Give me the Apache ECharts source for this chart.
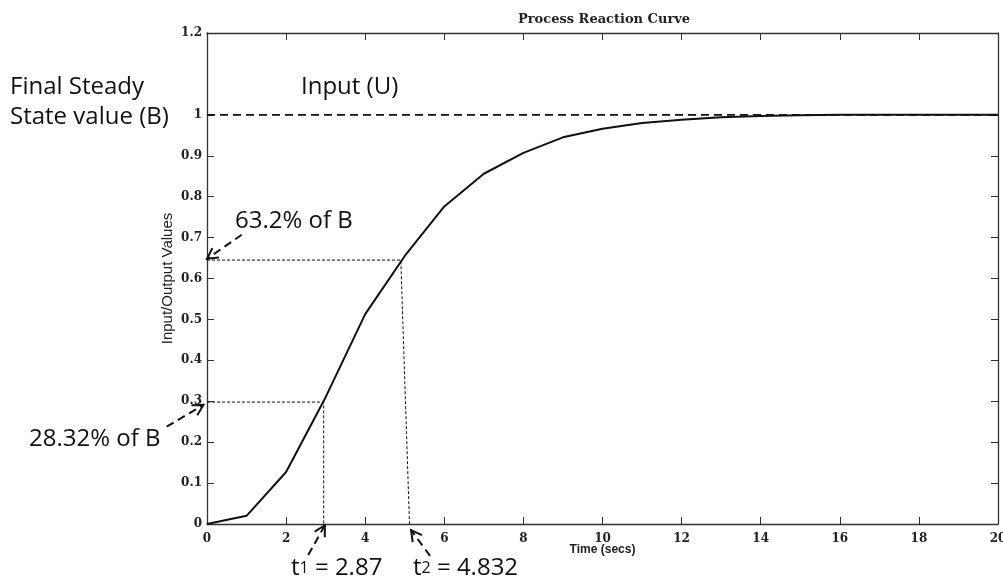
<!DOCTYPE html>
<html>
<head>
<meta charset="utf-8">
<script src="https://cdn.jsdelivr.net/npm/echarts@6/dist/echarts.min.js"></script>
<style>
  html, body { margin: 0; padding: 0; background: #ffffff; }
  #chart { width: 1003px; height: 582px; }
</style>
</head>
<body>
<div id="chart"></div>
<script>
// ---- data ----
const timeSecs = [0, 1, 2, 3, 4, 5, 6, 7, 8, 9, 10, 11, 12, 13, 14, 15, 16, 17, 18, 19, 20];
const outputVals = [0, 0.02, 0.127, 0.31, 0.513, 0.655, 0.776, 0.856, 0.907, 0.945, 0.966, 0.980, 0.988, 0.994, 0.997, 0.999, 1.0, 1.0, 1.0, 1.0, 1.0];
const inputX = [0, 20];
const inputY = [1, 1];
const guideT1 = [[0, 0.298], [2.95, 0.298], [2.95, 0]];
const guideT2 = [[0, 0.645], [4.9, 0.645], [5.12, 0]];
const xTicks = [0, 2, 4, 6, 8, 10, 12, 14, 16, 18, 20];
const yTicks = [0, 0.1, 0.2, 0.3, 0.4, 0.5, 0.6, 0.7, 0.8, 0.9, 1.0, 1.2];
const arrow63 = [[0.88, 0.707], [0.0, 0.648]];
const arrow28 = [[-1.02, 0.238], [-0.09, 0.291]];
const arrowT1 = [[2.56, -0.076], [2.98, -0.003]];
const arrowT2 = [[5.64, -0.078], [5.16, -0.015]];

const chart = echarts.init(document.getElementById('chart'), null, { renderer: 'canvas' });

const axisLine = { show: true, onZero: false, lineStyle: { color: '#333', width: 1.3 } };
const serifLabel = { fontFamily: 'DejaVu Serif', fontWeight: 'bold', fontSize: 12, color: '#222' };

const option = {
  animation: false,
  backgroundColor: '#ffffff',
  title: {
    text: 'Process Reaction Curve',
    left: 599,
    top: 8,
    textAlign: 'center',
    textStyle: { fontFamily: 'DejaVu Serif', fontWeight: 'bold', fontSize: 13, color: '#222' }
  },
  grid: { left: 207, right: 5, top: 33, bottom: 58, containLabel: false, outerBoundsMode: 'none' },
  xAxis: [
    {
      type: 'value', min: 0, max: 20, interval: 2, position: 'bottom',
      name: 'Time (secs)', nameLocation: 'middle', nameGap: 20, nameMoveOverlap: false,
      nameTextStyle: { fontFamily: 'Liberation Sans', fontSize: 12, fontWeight: 'bold', color: '#222' },
      axisLine: axisLine,
      axisTick: { show: true, inside: true, length: 7, lineStyle: { color: '#333' }, customValues: xTicks },
      axisLabel: Object.assign({ margin: 9, customValues: xTicks, hideOverlap: false }, serifLabel),
      splitLine: { show: false }
    },
    {
      type: 'value', min: 0, max: 20, interval: 2, position: 'top',
      axisLine: axisLine,
      axisTick: { show: true, inside: true, length: 7, lineStyle: { color: '#333' }, customValues: xTicks },
      axisLabel: { show: false },
      splitLine: { show: false }
    }
  ],
  yAxis: [
    {
      type: 'value', min: 0, max: 1.2, interval: 0.1, position: 'left',
      name: 'Input/Output Values', nameLocation: 'middle', nameGap: 32, nameRotate: 90, nameMoveOverlap: false,
      nameTextStyle: { fontFamily: 'Liberation Sans', fontSize: 15, color: '#222' },
      axisLine: axisLine,
      axisTick: { show: true, inside: true, length: 7, lineStyle: { color: '#333' }, customValues: yTicks },
      axisLabel: Object.assign({ margin: 5, customValues: yTicks,
        formatter: v => String(Math.round(v * 10) / 10) }, serifLabel),
      splitLine: { show: false }
    },
    {
      type: 'value', min: 0, max: 1.2, interval: 0.1, position: 'right',
      axisLine: axisLine,
      axisTick: { show: true, inside: true, length: 7, lineStyle: { color: '#333' }, customValues: yTicks },
      axisLabel: { show: false },
      splitLine: { show: false }
    }
  ],
  series: [
    {
      name: 'Input', type: 'line', showSymbol: false, symbol: 'none',
      data: inputX.map((x, i) => [x, inputY[i]]),
      lineStyle: { color: '#111', width: 1.6, type: [8, 5] }, z: 3
    },
    {
      name: 'Output', type: 'line', showSymbol: false, symbol: 'none',
      data: timeSecs.map((t, i) => [t, outputVals[i]]),
      lineStyle: { color: '#111', width: 2 }, z: 4
    },
    {
      name: 'guide1', type: 'line', showSymbol: false, symbol: 'none',
      data: guideT1, lineStyle: { color: '#111', width: 1, type: [3, 2] }, z: 2
    },
    {
      name: 'guide2', type: 'line', showSymbol: false, symbol: 'none',
      data: guideT2, lineStyle: { color: '#111', width: 1, type: [3, 2] }, z: 2
    }
  ]
};
chart.setOption(option);

function arrowGraphics(pair) {
  const tail = chart.convertToPixel({ gridIndex: 0 }, pair[0]);
  const head = chart.convertToPixel({ gridIndex: 0 }, pair[1]);
  const ang = Math.atan2(head[1] - tail[1], head[0] - tail[0]);
  const len = 12, spread = 0.5;
  const p1 = [head[0] - len * Math.cos(ang - spread), head[1] - len * Math.sin(ang - spread)];
  const p2 = [head[0] - len * Math.cos(ang + spread), head[1] - len * Math.sin(ang + spread)];
  return [
    { type: 'line', shape: { x1: tail[0], y1: tail[1], x2: head[0], y2: head[1] },
      style: { stroke: '#111', lineWidth: 2, lineDash: [8, 5] }, z: 100 },
    { type: 'polyline', shape: { points: [p1, head, p2] },
      style: { stroke: '#111', lineWidth: 2, fill: null }, z: 100 }
  ];
}

const bigFont = { fontFamily: 'Open Sans', fontSize: 24, fill: '#111' };
function txt(text, x, y, align) {
  return { type: 'text', x: x, y: y, z: 100,
    style: Object.assign({ text: text, textAlign: align || 'left', textVerticalAlign: 'middle' }, bigFont) };
}
function subTxt(main, sub, rest, x, y) {
  return { type: 'text', x: x, y: y, z: 100,
    style: { text: '{a|' + main + '}{s|' + sub + '}{a|' + rest + '}', textAlign: 'left', textVerticalAlign: 'middle',
      rich: { a: Object.assign({}, bigFont), s: { fontFamily: 'Open Sans', fontSize: 16, fill: '#111', verticalAlign: 'bottom', padding: [0, 0, 4, 0] } } } };
}

const graphics = [].concat(
  arrowGraphics(arrow63),
  arrowGraphics(arrow28),
  arrowGraphics(arrowT1),
  arrowGraphics(arrowT2),
  [
    txt('Final Steady', 10, 87),
    txt('State value (B)', 10, 117),
    txt('Input (U)', 301, 87),
    txt('63.2% of B', 235, 221),
    txt('28.32% of B', 29, 439),
    subTxt('t', '1', ' = 2.87', 291, 568),
    subTxt('t', '2', ' = 4.832', 413, 568)
  ]
);
chart.setOption({ graphic: graphics });
</script>
</body>
</html>
